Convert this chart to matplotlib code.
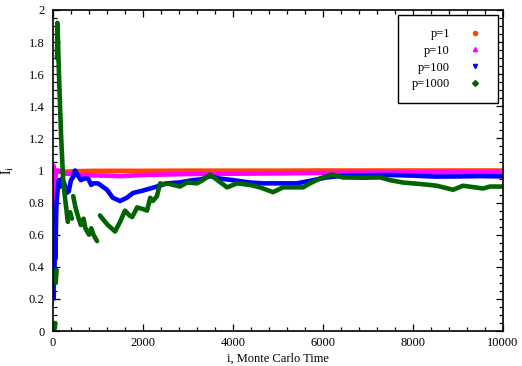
import numpy as np
import matplotlib
matplotlib.use("Agg")
import matplotlib.pyplot as plt
from matplotlib.lines import Line2D
from matplotlib.ticker import MultipleLocator

plt.rcParams['font.family'] = ['Liberation Serif', 'DejaVu Serif']
plt.rcParams['mathtext.fontset'] = 'custom'
plt.rcParams['mathtext.rm'] = 'Liberation Serif'
plt.rcParams['mathtext.it'] = 'Liberation Serif'

nan = np.nan

labels = ["p=1", "p=10", "p=100", "p=1000"]
colors = ["#ff4500", "#ff00ff", "#0000ff", "#006400"]
markers = ["o", "^", "v", "D"]

p1_x = [0, 5, 15, 30, 60, 100, 200, 400, 700, 1000, 2000, 3000, 4000, 5000, 6000, 7000, 8000, 9000, 10000]
p1_y = [0.45, 0.73, 0.97, 0.99, 0.985, 0.995, 0.99, 0.995, 0.997, 0.998, 0.998, 0.999, 0.999, 0.999, 1.0, 1.0, 1.0, 1.0, 1.0]

p10_x = [0, 10, 20, 30, 45, 60, 80, 120, 200, 300, 500, 800, 1200, 1500, 2000, 3000, 4000, 5000, 6000, 7000, 8000, 9000, 10000]
p10_y = [0.73, 1.03, 0.82, 1.0, 0.85, 0.98, 1.0, 1.0, 0.99, 0.98, 0.975, 0.97, 0.968, 0.965, 0.972, 0.978, 0.98, 0.982, 0.985, 0.987, 0.988, 0.99, 0.99]

p100_x = [0, 10, 20, 30, 40, 50, 60, 70, 80, 100, 130, 160, 200, 250, 300, 350, 400, 450, 490, 550, 620, 700, 780,
          850, 900, 1000, 1100, 1200, 1330, 1490, 1640, 1780, 2000, 2310, 2530, 2800, 3110, 3300, 3490, 3700, 4000,
          4380, 4670, 5000, 5420, 5700, 5870, 6090, 6530, 7000, 7500, 8000, 8500, 9000, 9500, 10000]
p100_y = [0.25, 0.2, 0.36, 0.3, 0.55, 0.45, 0.56, 0.72, 0.8, 0.87, 0.94, 0.9, 0.95, 0.92, 0.86, 0.87, 0.94, 0.96, 1.0,
          0.97, 0.94, 0.95, 0.95, 0.91, 0.92, 0.92, 0.9, 0.88, 0.83, 0.81, 0.83, 0.86, 0.875, 0.9, 0.92, 0.925, 0.94,
          0.945, 0.965, 0.95, 0.94, 0.925, 0.92, 0.92, 0.92, 0.935, 0.945, 0.957, 0.97, 0.97, 0.972, 0.968, 0.962,
          0.963, 0.965, 0.963]

p1000_x = [0, 20, 40, 50, 55, 60, 70, 80, 85, 90, 96, 110, 140, 178, 230, 280, 330, 335, 380, 420, 425, 450, 500, 560,
           620, 680, 720, 800, 850, 900, 980, 985, 1044, 1100, 1220, 1380, 1490, 1600, 1700, 1760, 1870, 2000, 2090,
           2160, 2220, 2310, 2380, 2450, 2530, 2820, 2980, 3200, 3330, 3490, 3700, 3870, 4090, 4380, 4600, 4890, 5110,
           5560, 5710, 5930, 6200, 6440, 6890, 7270, 7490, 7780, 8200, 8530, 8890, 9110, 9560, 9710, 10000]
p1000_y = [0.0, 0.0, 0.02, 0.05, nan, 0.3, 0.34, 0.38, nan, 1.7, 1.92, 1.82, 1.54, 1.23, 0.92, 0.80, 0.68, nan, 0.74,
           0.70, nan, 0.84, 0.77, 0.71, 0.66, 0.70, 0.64, 0.60, 0.64, 0.60, 0.56, nan, 0.72, 0.70, 0.66, 0.62, 0.68,
           0.75, 0.72, 0.71, 0.77, 0.76, 0.75, 0.83, 0.81, 0.84, 0.92, 0.915, 0.92, 0.90, 0.925, 0.92, 0.94, 0.975,
           0.93, 0.895, 0.92, 0.91, 0.895, 0.865, 0.895, 0.895, 0.92, 0.95, 0.975, 0.957, 0.955, 0.957, 0.94, 0.925,
           0.915, 0.905, 0.88, 0.905, 0.888, 0.9, 0.9]

series_x = [p1_x, p10_x, p100_x, p1000_x]
series_y = [p1_y, p10_y, p100_y, p1000_y]

x_ticks = [0, 2000, 4000, 6000, 8000, 10000]
y_ticks = [0, 0.2, 0.4, 0.6, 0.8, 1, 1.2, 1.4, 1.6, 1.8, 2]
y_ticklabels = ["0", "0.2", "0.4", "0.6", "0.8", "1", "1.2", "1.4", "1.6", "1.8", "2"]

FS = 9

fig = plt.figure(figsize=(5.22, 3.66), dpi=100)
ax = fig.add_axes([0.1015, 0.0956, 0.8621, 0.8771])

for xs, ys, c in zip(series_x, series_y, colors):
    ax.plot(xs, ys, color=c, lw=3.3, solid_joinstyle='round', solid_capstyle='round')

ax.set_xlim(0, 10000)
ax.set_ylim(0, 2)
ax.set_xticks(x_ticks)
ax.set_xticklabels([str(t) for t in x_ticks])
ax.set_yticks(y_ticks)
ax.set_yticklabels(y_ticklabels)
ax.xaxis.set_minor_locator(MultipleLocator(400))
ax.yaxis.set_minor_locator(MultipleLocator(0.05))
ax.tick_params(which='both', direction='in', top=True, right=True, labelsize=FS, colors='black')
ax.tick_params(which='major', length=5, width=0.9)
ax.tick_params(axis='x', which='major', pad=4)
ax.tick_params(axis='y', which='major', pad=6)
ax.tick_params(which='minor', length=3, width=0.9)
for s in ax.spines.values():
    s.set_linewidth(1.2)

ax.set_xlabel("i, Monte Carlo Time", fontsize=FS, labelpad=3)
ax.set_ylabel(r"$\mathregular{I_i}$", fontsize=FS + 1, labelpad=9)

handles = [Line2D([], [], ls='none', marker=m, color=c, markersize=3) for m, c in zip(markers, colors)]
leg = ax.legend(handles, labels, loc='upper right', markerfirst=False, fontsize=FS, frameon=True,
                fancybox=False, edgecolor='black', framealpha=1, borderpad=1.05, handlelength=1.6,
                handletextpad=1.2, labelspacing=0.38, borderaxespad=0.4)
leg.get_frame().set_linewidth(1.0)

fig.savefig("out.png", dpi=100)
